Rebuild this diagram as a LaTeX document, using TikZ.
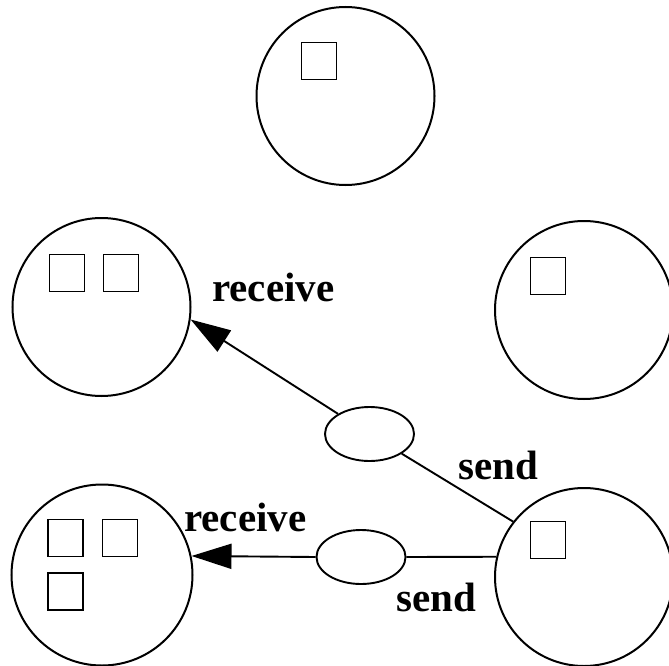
\documentclass[tikz,border=0pt]{standalone}
\usepackage{fontspec}
\setmainfont{Liberation Serif}
\usetikzlibrary{arrows.meta,shapes.geometric}
\begin{document}
\begin{tikzpicture}[x=1pt,y=-1pt,
  proc/.style={draw,circle,line width=2pt,inner sep=0pt,minimum size=178pt},
  box/.style={draw,rectangle,line width=1.8pt,inner sep=0pt,minimum width=35pt,minimum height=37pt},
  msg/.style={draw,ellipse,line width=1.9pt,inner sep=0pt,minimum width=89pt,minimum height=54pt},
  conn/.style={line width=1.9pt},
  arr/.style={conn,-{Triangle[length=40pt,width=25pt]}},
  lbl/.style={anchor=base west,inner sep=0pt,font=\fontsize{41}{41}\selectfont\bfseries}]
\useasboundingbox (0,0) rectangle (669,666);
% processes
\node[proc] (top) at (345.5,96) {};
\node[proc] (lm) at (101.5,307) {};
\node[proc] (rm) at (584,310) {};
\node[proc,minimum size=181pt] (bl) at (102,575) {};
\node[proc] (br) at (584,577) {};
% boxes
\node[box] (t1) at (319,61) {};
\node[box] (l1) at (67,273) {};
\node[box] (l2) at (121,273) {};
\node[box] (r1) at (548,276) {};
\node[box] (b1) at (65.5,538) {};
\node[box] (b2) at (120,538) {};
\node[box] (b3) at (65.5,591.5) {};
\node[box] (s1) at (548,540) {};
% messages
\node[msg] (e1) at (369.5,434) {};
\node[msg] (e2) at (361,557) {};
% connectors
\draw[conn] (br.142.6) -- (e1);
\draw[arr] (e1) -- (lm.-8);
\draw[conn] (br.167) -- (e2.east);
\draw[arr] (e2.west) -- (bl.12);
% labels
\node[lbl] (rc1) at (212,301) {receive};
\node[lbl] (rc2) at (184,531) {receive};
\node[lbl] (sd1) at (458.5,479) {send};
\node[lbl] (sd2) at (396.5,611) {send};
\end{tikzpicture}
\end{document}
